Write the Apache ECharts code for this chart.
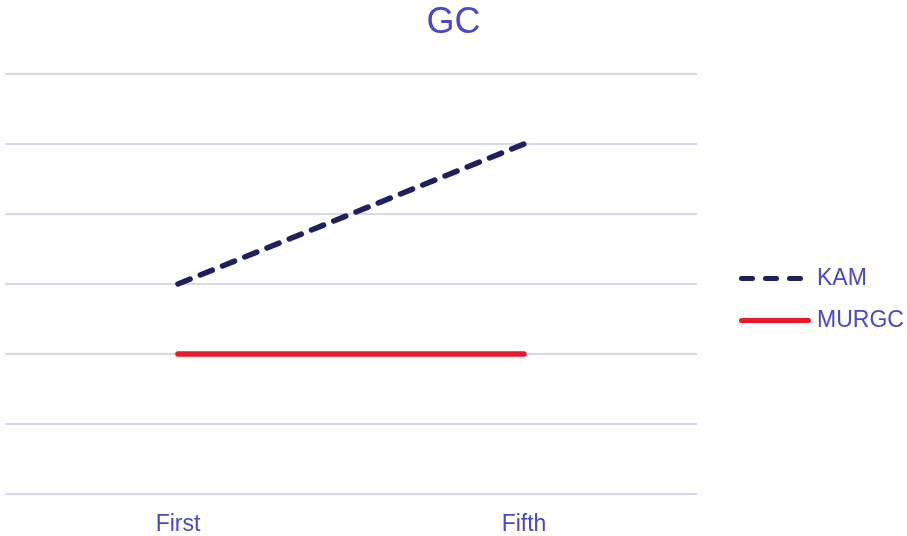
<!DOCTYPE html>
<html>
<head>
<meta charset="utf-8">
<script src="https://cdn.jsdelivr.net/npm/echarts@6/dist/echarts.min.js"></script>
<style>
  html, body { margin: 0; padding: 0; background: #fff; }
  #chart { width: 907px; height: 536px; }
</style>
</head>
<body>
<div id="chart"></div>
<script>
const categories = ['First', 'Fifth'];
const kamValues = [3, 5];
const murgcValues = [2, 2];

const textColor = '#4848c8';
const fontFamily = "'Liberation Sans', Arial, sans-serif";

// legend glyphs: rounded dashes / rounded bar, 72 x 5 box
const dashIcon = 'path://M2.5 0H13.5A2.5 2.5 0 0 1 13.5 5H2.5A2.5 2.5 0 0 1 2.5 0Z' +
  'M26.5 0H37.5A2.5 2.5 0 0 1 37.5 5H26.5A2.5 2.5 0 0 1 26.5 0Z' +
  'M50.5 0H61.5A2.5 2.5 0 0 1 61.5 5H50.5A2.5 2.5 0 0 1 50.5 0Z' +
  'M72 2.5L72 2.5Z';
const barIcon = 'path://M2.5 0H69.5A2.5 2.5 0 0 1 69.5 5H2.5A2.5 2.5 0 0 1 2.5 0Z';

const chart = echarts.init(document.getElementById('chart'));
const option = {
  backgroundColor: '#fff',
  animation: false,
  title: {
    text: 'GC',
    left: 'center',
    top: 0,
    textStyle: { color: textColor, fontSize: 36, fontWeight: 'normal', fontFamily: fontFamily }
  },
  legend: {
    orient: 'vertical',
    left: 734,
    top: 262,
    itemWidth: 72,
    itemHeight: 5,
    itemGap: 19,
    textStyle: { color: textColor, fontSize: 23, fontFamily: fontFamily, padding: [0, 0, 0, 1] },
    data: [
      { name: 'KAM', icon: dashIcon, itemStyle: { color: '#1f2060' } },
      { name: 'MURGC', icon: barIcon, itemStyle: { color: '#e8192c' } }
    ]
  },
  grid: { left: 5, right: 210, top: 74, bottom: 42 },
  xAxis: {
    type: 'category',
    data: categories,
    axisLine: { show: false },
    axisTick: { show: false },
    axisLabel: { color: textColor, fontSize: 23, fontFamily: fontFamily, margin: 19 }
  },
  yAxis: {
    type: 'value',
    min: 0,
    max: 6,
    interval: 1,
    axisLabel: { show: false },
    axisLine: { show: false },
    axisTick: { show: false },
    splitLine: { lineStyle: { color: '#d8d8f0', width: 2 } }
  },
  series: [
    {
      name: 'KAM',
      type: 'line',
      data: kamValues,
      symbol: 'none',
      lineStyle: { color: '#1f2060', width: 5.5, type: [13, 11], cap: 'round' },
      itemStyle: { color: '#1f2060' }
    },
    {
      name: 'MURGC',
      type: 'line',
      data: murgcValues,
      symbol: 'none',
      lineStyle: { color: '#e8192c', width: 5.5, cap: 'round' },
      itemStyle: { color: '#e8192c' }
    }
  ]
};
chart.setOption(option);
</script>
</body>
</html>
